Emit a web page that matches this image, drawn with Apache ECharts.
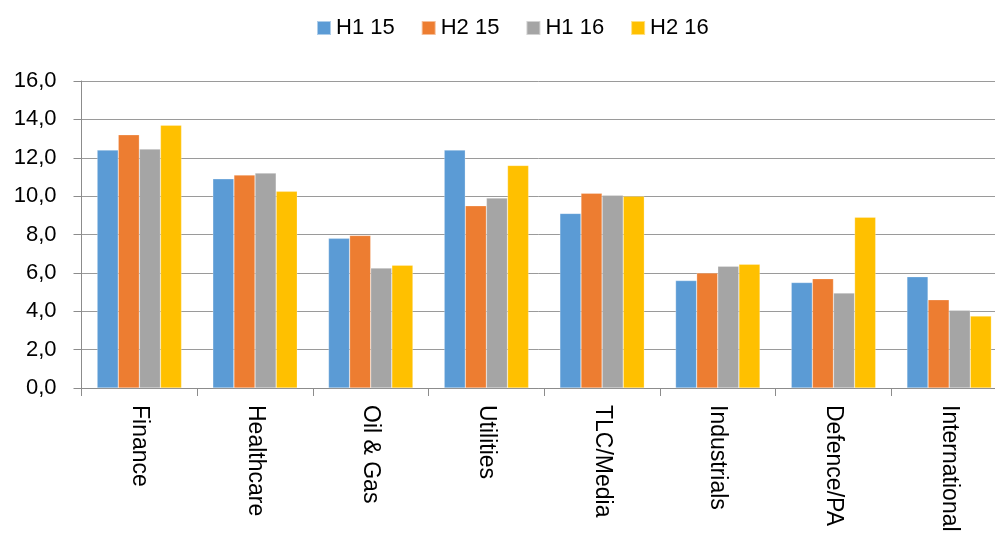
<!DOCTYPE html>
<html>
<head>
<meta charset="utf-8">
<script src="https://cdn.jsdelivr.net/npm/echarts@6/dist/echarts.min.js"></script>
<style>html,body{margin:0;padding:0;background:#fff}#c{width:995px;height:543px}</style>
</head>
<body>
<div id="c"></div>
<script>
const categories = ['Finance','Healthcare','Oil & Gas','Utilities','TLC/Media','Industrials','Defence/PA','International'];
const seriesNames = ['H1 15','H2 15','H1 16','H2 16'];
const h1_15 = [12.4, 10.9, 7.8, 12.4, 9.1, 5.6, 5.5, 5.8];
const h2_15 = [13.2, 11.1, 7.95, 9.5, 10.15, 6.0, 5.7, 4.6];
const h1_16 = [12.45, 11.2, 6.25, 9.9, 10.05, 6.35, 4.95, 4.05];
const h2_16 = [13.7, 10.25, 6.4, 11.6, 10.0, 6.45, 8.9, 3.75];
const colors = ['#5B9BD5','#ED7D31','#A5A5A5','#FFC000'];
const values = [h1_15, h2_15, h1_16, h2_16];

const chart = echarts.init(document.getElementById('c'));
const font = 'Liberation Sans, Arial, sans-serif';
chart.setOption({
  animation: false,
  color: colors,
  textStyle: {fontFamily: font},
  legend: {
    left: 316, top: 17, padding: 0,
    itemWidth: 14, itemHeight: 14, itemGap: 26,
    icon: 'rect',
    textStyle: {fontSize: 22, color: '#000', fontFamily: font},
    data: seriesNames
  },
  grid: {left: 81.5, top: 81, right: -12, bottom: 155, containLabel: false, outerBoundsMode: 'none'},
  xAxis: {
    type: 'category',
    data: categories,
    axisLine: {lineStyle: {color: '#8c8c8c', width: 1}},
    axisTick: {show: true, length: 8, lineStyle: {color: '#8c8c8c'}},
    axisLabel: {rotate: -90, margin: 17, fontSize: 23, color: '#000', fontFamily: font, interval: 0}
  },
  yAxis: {
    type: 'value', min: 0, max: 16, interval: 2,
    axisLine: {show: true, lineStyle: {color: '#8c8c8c'}},
    axisTick: {show: true, length: 8, lineStyle: {color: '#8c8c8c'}},
    splitLine: {lineStyle: {color: '#9a9a9a', width: 1}},
    axisLabel: {margin: 25, fontSize: 22, color: '#000', fontFamily: font,
      formatter: v => v.toFixed(1).replace('.', ',')}
  },
  series: seriesNames.map((n, i) => ({
    name: n, type: 'bar', data: values[i],
    barGap: '0%', barCategoryGap: '27%',
    itemStyle: {color: colors[i], borderColor: 'rgba(255,255,255,0.5)', borderWidth: 0.5}
  }))
});
</script>
</body>
</html>
